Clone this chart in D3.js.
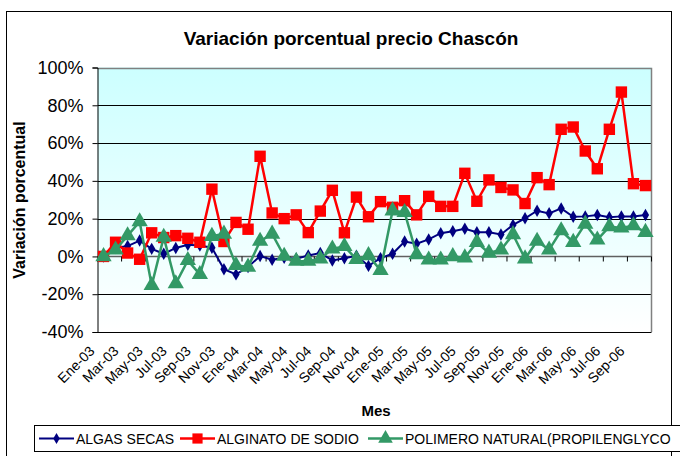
<!DOCTYPE html>
<html><head><meta charset="utf-8">
<script src="https://cdn.jsdelivr.net/npm/d3@7"></script>
<style>
html,body{margin:0;padding:0;background:#fff;}
svg{display:block;font-family:"Liberation Sans",Arial,sans-serif;}
</style></head>
<body><svg id="c" width="680" height="456"></svg>
<script>
const categories = ["Ene-03","Feb-03","Mar-03","Abr-03","May-03","Jun-03","Jul-03","Ago-03","Sep-03","Oct-03","Nov-03","Dic-03",
"Ene-04","Feb-04","Mar-04","Abr-04","May-04","Jun-04","Jul-04","Ago-04","Sep-04","Oct-04","Nov-04","Dic-04",
"Ene-05","Feb-05","Mar-05","Abr-05","May-05","Jun-05","Jul-05","Ago-05","Sep-05","Oct-05","Nov-05","Dic-05",
"Ene-06","Feb-06","Mar-06","Abr-06","May-06","Jun-06","Jul-06","Ago-06","Sep-06","Oct-06"];
const algasSecas = [0,4.5,5.5,8.4,4,1.4,4.5,6.2,5.8,4.6,-6.8,-9.5,-5.6,0.2,-1.8,-0.7,-1.2,0.5,1.8,-2.1,
-1,0.3,-5,-0.9,1.4,7.9,6.7,9,12.3,13.3,14.6,12.8,12.8,11.6,16.7,20.2,24.2,22.8,25.4,21,21.2,21.9,20.7,21.2,21.2,21.9];
const alginatoSodio = [0,7.5,1.8,-1.5,12.5,10,11,9.6,7.5,35.6,7.9,18,14.4,53,23,20,22,12.6,24,35,
12.5,31.4,21,29,26,29.5,22,31.8,26.5,26.5,44,29.2,40.5,36.5,35.2,28,41.7,38,67.3,68.5,55.8,46.4,67.3,87,38.5,37.5];
const polimeroNatural = [0,3.5,11,18.4,-15.3,10.2,-14.4,-2.1,-9.5,10.7,11.9,-4.7,-5.6,8.1,11.9,0.2,-2.5,-2.5,-1.2,4,
5.3,-1.5,0.5,-7.4,24.2,23.3,1,-1.8,-1.8,0,-0.7,7.5,1.8,3.5,11.6,-1.2,8.1,3.5,13.7,7.5,17.2,8.8,15.8,15.1,16.3,12.8];
const yTicks = [-40,-20,0,20,40,60,80,100];
const seriesNames = ["ALGAS SECAS","ALGINATO DE SODIO","POLIMERO NATURAL(PROPILENGLYCO"];
const title = "Variación porcentual precio Chascón";
const yTitle = "Variación porcentual";
const xTitle = "Mes";

const svg = d3.select("#c");
const L = 97.5, R = 651.5, T = 67.5, B = 332;
const x = d3.scaleBand().domain(categories).range([L, R]).padding(0);
const bw = x.bandwidth();
const cx = c => x(c) + bw/2;
const y = d3.scaleLinear().domain([-40,100]).range([B, T]);

// outer border
svg.append("rect").attr("x",6.5).attr("y",11.5).attr("width",665).attr("height",460)
  .attr("fill","#fff").attr("stroke","#000").attr("stroke-width",1);

// gradient
const defs = svg.append("defs");
const g = defs.append("linearGradient").attr("id","bg").attr("x1",0).attr("y1",0).attr("x2",0).attr("y2",1);
g.append("stop").attr("offset","0%").attr("stop-color","#CCFFFF");
g.append("stop").attr("offset","100%").attr("stop-color","#FFFFFF");
svg.append("rect").attr("x",L).attr("y",T).attr("width",R-L).attr("height",B-T).attr("fill","url(#bg)");

// gridlines
svg.append("g").selectAll("line").data(yTicks).join("line")
  .attr("x1",L).attr("x2",R).attr("y1",d=>Math.round(y(d))+0.5).attr("y2",d=>Math.round(y(d))+0.5)
  .attr("stroke","#000").attr("stroke-width",1);

// plot border (gray top/right)
svg.append("path").attr("d",`M${L},${Math.round(T)+0.5}H${R}V${B}`).attr("fill","none").attr("stroke","#808080").attr("stroke-width",1.5);

// y axis
const ya = svg.append("g").attr("transform",`translate(${L},0)`)
  .call(d3.axisLeft(y).tickValues(yTicks).tickFormat(d=>d+"%").tickSize(5).tickPadding(9));
ya.select(".domain").attr("stroke","#000");
ya.selectAll("line").attr("stroke","#000");
ya.selectAll("text").attr("font-size",18).attr("font-family","Liberation Sans, Arial, sans-serif").attr("fill","#000");

// x axis at 0%
const y0 = Math.round(y(0))+0.5;
svg.append("line").attr("x1",L).attr("x2",R).attr("y1",y0).attr("y2",y0).attr("stroke","#606060").attr("stroke-width",1.5);
const tickIdx = d3.range(0, categories.length+1, 2);
svg.append("g").selectAll("line").data(tickIdx).join("line")
  .attr("x1",k=> k<categories.length ? x(categories[k]) : R)
  .attr("x2",k=> k<categories.length ? x(categories[k]) : R)
  .attr("y1",y0).attr("y2",y0+5).attr("stroke","#000");

// x labels
const labelCats = categories.filter((c,i)=>i%2===0);
svg.append("g").selectAll("text").data(labelCats).join("text")
  .attr("transform",c=>`translate(${cx(c)-8},${B+20}) rotate(-45)`)
  .attr("text-anchor","end").attr("font-size",14).attr("fill","#000").text(c=>c);

// titles
svg.append("text").attr("x",351).attr("y",45).attr("text-anchor","middle").attr("font-size",19).attr("font-weight","bold").text(title);
svg.append("text").attr("transform","translate(25,200) rotate(-90)").attr("text-anchor","middle").attr("font-size",16).attr("font-weight","bold").text(yTitle);
svg.append("text").attr("x",376).attr("y",416).attr("text-anchor","middle").attr("font-size",15).attr("font-weight","bold").text(xTitle);

// series
const line = d3.line().x((d,i)=>cx(categories[i])).y(d=>y(d));
const colors = ["#000080","#FF0000","#339966"];
const data = [algasSecas, alginatoSodio, polimeroNatural];
const symbols = [d3.symbolDiamond, d3.symbolSquare, d3.symbolTriangle];
const sizes = [45, 130, 115];
const widths = [2, 2.5, 2.5];
data.forEach((vals, s) => {
  svg.append("path").datum(vals).attr("d",line).attr("fill","none").attr("stroke",colors[s]).attr("stroke-width",widths[s]);
  svg.append("g").selectAll("path").data(vals).join("path")
    .attr("transform",(d,i)=>`translate(${cx(categories[i])},${y(d)})`)
    .attr("d",d3.symbol().type(symbols[s]).size(sizes[s])).attr("fill",colors[s]);
});

// legend
const lg = svg.append("g");
lg.append("rect").attr("x",34.5).attr("y",425.5).attr("width",660).attr("height",26).attr("fill","#fff").attr("stroke","#000");
const lx = [39, 180, 368];
seriesNames.forEach((n,s)=>{
  lg.append("line").attr("x1",lx[s]).attr("x2",lx[s]+35).attr("y1",438.5).attr("y2",438.5).attr("stroke",colors[s]).attr("stroke-width",widths[s]);
  lg.append("path").attr("transform",`translate(${lx[s]+17.5},438.5)`).attr("d",d3.symbol().type(symbols[s]).size(sizes[s]*0.8)).attr("fill",colors[s]);
  lg.append("text").attr("x",lx[s]+37).attr("y",443.5).attr("font-size",14).attr("fill","#000").text(n);
});
</script></body></html>
